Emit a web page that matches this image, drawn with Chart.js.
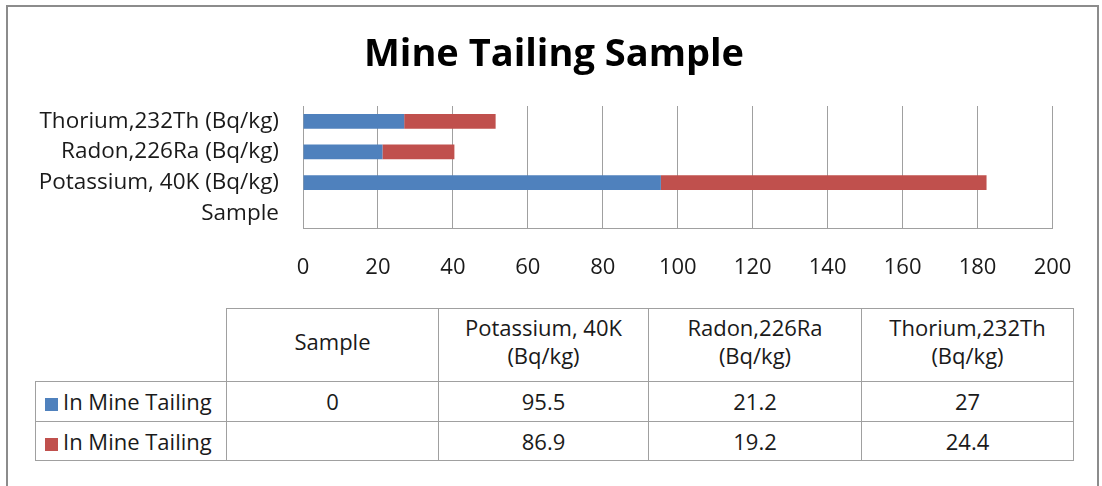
<!DOCTYPE html>
<html>
<head>
<meta charset="utf-8">
<script src="https://cdn.jsdelivr.net/npm/chart.js@4/dist/chart.umd.min.js"></script>
<style>
    body { margin: 0; background: #fff; font-family: 'Open Sans', sans-serif; }
    #wrap { position: relative; width: 1102px; height: 486px; overflow: hidden; }
    #frame { position: absolute; left: 6px; top: 5px; width: 1089px; height: 520px; border: 2px solid #8c8c8c; }
    #chartBox { position: absolute; left: 0; top: 0; width: 1102px; height: 300px; }
    #dataTable { position: absolute; left: 35px; top: 308px; border-collapse: collapse; font-size: 22px; color: #1a1a1a; table-layout: fixed; }
    #dataTable td { border: 1px solid #a0a0a0; text-align: center; vertical-align: middle; padding: 0; line-height: 28px; }
    #dataTable tr.head td { padding-bottom: 9px; }
    #dataTable td.blank { border-top: none; border-left: none; }
    #dataTable td.key { text-align: left; padding-left: 9px; white-space: nowrap; }
    .swatch { display: inline-block; width: 13px; height: 13px; margin-right: 5px; vertical-align: -1px; }
</style>
</head>
<body>
<div id="wrap">
    <div id="frame"></div>
    <div id="chartBox"><canvas id="mineChart"></canvas></div>
    <table id="dataTable"></table>
</div>
<script>
// categories from bottom to top, as in the picture
const categories = ['Sample', 'Potassium, 40K (Bq/kg)', 'Radon,226Ra (Bq/kg)', 'Thorium,232Th (Bq/kg)'];
const seriesNames = ['In Mine Tailing', 'In Mine Tailing'];
const firstValues = [0, 95.5, 21.2, 27];
const secondValues = [null, 86.9, 19.2, 24.4];
const xTicks = [0, 20, 40, 60, 80, 100, 120, 140, 160, 180, 200];
const seriesColors = ['#4f81bd', '#c0504d'];

const gridGray = '#a0a0a0';
const textColor = '#1a1a1a';

Chart.defaults.font.family = "'Open Sans', sans-serif";
Chart.defaults.color = textColor;

const ctx = document.getElementById('mineChart').getContext('2d');
const mineChart = new Chart(ctx, {
    type: 'bar',
    data: {
        labels: categories,
        datasets: [
            { label: seriesNames[0], data: firstValues, backgroundColor: seriesColors[0], borderWidth: 0 },
            { label: seriesNames[1], data: secondValues, backgroundColor: seriesColors[1], borderWidth: 0 }
        ]
    },
    options: {
        indexAxis: 'y',
        responsive: true,
        maintainAspectRatio: false,
        animation: false,
        barPercentage: 0.48,
        categoryPercentage: 1,
        layout: { padding: { left: 30, right: 24, top: 0, bottom: 11.5 } },
        plugins: {
            legend: { display: false },
            tooltip: { enabled: false },
            title: {
                display: true,
                text: 'Mine Tailing Sample',
                color: '#000',
                font: { size: 38, weight: 'bold' },
                padding: { top: 32, bottom: 28.4 }
            }
        },
        scales: {
            x: {
                stacked: true,
                min: 0,
                max: 200,
                afterBuildTicks: (scale) => { scale.ticks = xTicks.map(v => ({ value: v })); },
                afterFit: (scale) => { scale.height = 60; },
                grid: { color: gridGray, drawTicks: false, lineWidth: 1 },
                border: { color: gridGray, width: 1 },
                ticks: { padding: 26.5, font: { size: 22 }, color: textColor }
            },
            y: {
                stacked: true,
                reverse: true,
                afterFit: (scale) => { scale.width = 273; },
                grid: { display: false, drawTicks: false },
                border: { color: gridGray, width: 1 },
                ticks: { padding: 24, font: { size: 22.5 }, color: textColor }
            },
            // empty spacer on the right so the plot ends where the picture's does
            spacer: {
                type: 'linear',
                position: 'right',
                afterFit: (scale) => { scale.width = 25.5; },
                grid: { display: false, drawTicks: false },
                border: { display: false },
                ticks: { display: false }
            }
        }
    }
});

// data table under the chart, built from the same arrays
const colWidths = [191, 212, 210, 213, 212];
const rowHeights = [73, 39.5, 39.5];
const table = document.getElementById('dataTable');
let html = '<colgroup>' + colWidths.map(w => '<col style="width:' + w + 'px">').join('') + '</colgroup>';
html += '<tr class="head" style="height:' + rowHeights[0] + 'px"><td class="blank"></td>';
categories.forEach(c => { html += '<td>' + c.replace(' (', '<br>(') + '</td>'; });
html += '</tr>';
[firstValues, secondValues].forEach((vals, i) => {
    html += '<tr style="height:' + rowHeights[i + 1] + 'px"><td class="key"><span class="swatch" style="background:' + seriesColors[i] + '"></span>' + seriesNames[i] + '</td>';
    vals.forEach(v => { html += '<td>' + (v === null ? '' : v) + '</td>'; });
    html += '</tr>';
});
table.innerHTML = html;
</script>
</body>
</html>
